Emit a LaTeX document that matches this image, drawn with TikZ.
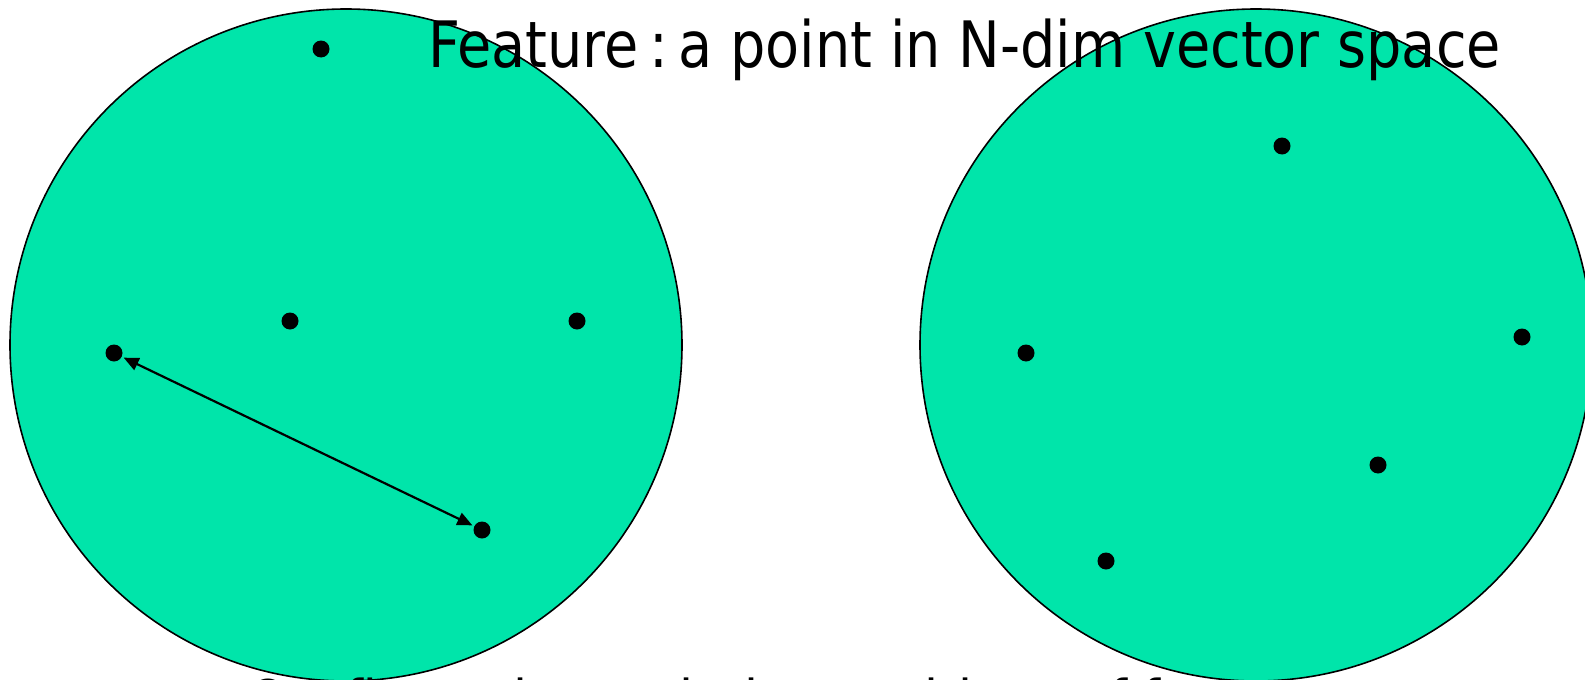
\documentclass[tikz,border=0pt]{standalone}
\usepackage{fontspec}
\newfontfamily\tfont[FakeStretch=0.87]{DejaVu Sans}
\newfontfamily\bfontx[FakeStretch=0.79]{DejaVu Sans}
\usetikzlibrary{arrows.meta}
\definecolor{blobgreen}{RGB}{0,229,170}
\begin{document}
\begin{tikzpicture}[x=1pt,y=-1pt,
 region/.style={circle,draw=black,line width=1.6pt,fill=blobgreen,minimum size=672pt,inner sep=0pt},
 feat/.style={circle,fill=black,minimum size=17pt,inner sep=0pt},
 arr/.style={{Triangle[length=15pt,width=13pt]}-{Triangle[length=15pt,width=13pt]},line width=2.2pt,shorten <=2pt,shorten >=2pt},
 lbl/.style={inner sep=0pt,anchor=base west,font=\tfont\fontsize{64}{70}\selectfont},
 lblb/.style={inner sep=0pt,anchor=base west,font=\bfontx\fontsize{64}{70}\selectfont}]
\clip (0,0) rectangle (1585,680);
\node[region] (L) at (346,345) {};
\node[region] (R) at (1256,345) {};
% left features
\node[feat] (l1) at (321,49) {};
\node[feat] (l2) at (290,321) {};
\node[feat] (l3) at (577,321) {};
\node[feat] (l4) at (114,353) {};
\node[feat] (l5) at (482,530) {};
% right features
\node[feat] (r1) at (1282,146) {};
\node[feat] (r2) at (1026,353) {};
\node[feat] (r3) at (1522,337) {};
\node[feat] (r4) at (1378,465) {};
\node[feat] (r5) at (1106,561) {};
\draw[arr] (l4) -- (l5);
\node[lbl] (t1) at (428,67) {Feature\,:\,a point in N-dim vector space};
\node[lblb] (t2) at (247,726) {Configuration: relative positions of features};
\end{tikzpicture}
\end{document}
